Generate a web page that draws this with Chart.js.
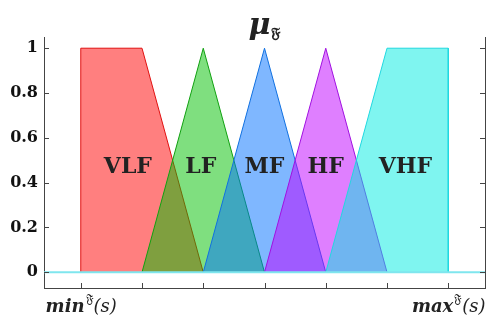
<!DOCTYPE html>
<html>
<head>
<meta charset="utf-8">
<script src="https://cdn.jsdelivr.net/npm/chart.js@4.4.0/dist/chart.umd.min.js"></script>
<style>
  html, body { margin: 0; padding: 0; background: #fff; }
  #wrap { width: 504px; height: 325px; }
</style>
</head>
<body>
<div id="wrap"><canvas id="c"></canvas></div>
<script>
// membership functions, x in units between min and max
const setNames = ['VLF', 'LF', 'MF', 'HF', 'VHF'];
const vlfX = [0, 0, 1, 2];
const vlfY = [0, 1, 1, 0];
const lfX = [1, 2, 3];
const lfY = [0, 1, 0];
const mfX = [2, 3, 4];
const mfY = [0, 1, 0];
const hfX = [3, 4, 5];
const hfY = [0, 1, 0];
const vhfX = [4, 5, 6, 6];
const vhfY = [0, 1, 1, 0];
const labelX = [0.77, 1.96, 3.0, 4.0, 5.3];
const labelY = [0.47, 0.47, 0.47, 0.47, 0.47];
const yTicks = [0, 0.2, 0.4, 0.6, 0.8, 1];
const xTicks = [0, 1, 2, 3, 4, 5, 6];
const xEndLabels = { 0: 'min', 6: 'max' };

const fills = ['rgba(255,0,0,0.5)', 'rgba(0,192,0,0.5)', 'rgba(0,112,255,0.5)', 'rgba(192,0,255,0.5)', 'rgba(0,235,225,0.5)'];
const lines = ['#e01010', '#10a010', '#1070e0', '#a010e0', '#20d8e0'];

const pts = (xs, ys) => xs.map((x, i) => ({ x: x, y: ys[i] }));
const shapes = [[vlfX, vlfY], [lfX, lfY], [mfX, mfY], [hfX, hfY], [vhfX, vhfY]];

// later sets are painted over earlier ones
const datasets = shapes.map((s, i) => ({
  label: setNames[i],
  data: pts(s[0], s[1]),
  order: 10 - i,
  showLine: true,
  fill: 'origin',
  backgroundColor: fills[i],
  borderColor: lines[i],
  borderWidth: 1,
  pointRadius: 0,
  tension: 0
}));
datasets.push({
  label: 'zero',
  data: [{ x: -0.6, y: 0 }, { x: 6.6, y: 0 }],
  order: 0,
  showLine: true,
  fill: false,
  borderColor: '#7fe6ee',
  borderWidth: 2,
  pointRadius: 0
});

const serif = '"DejaVu Serif", "Liberation Serif", serif';

const decor = {
  id: 'decor',
  afterDraw(chart) {
    const ctx = chart.ctx;
    const xs = chart.scales.x, ys = chart.scales.y;
    const a = chart.chartArea;
    ctx.save();
    // inward ticks
    ctx.strokeStyle = '#444';
    ctx.lineWidth = 1;
    ctx.beginPath();
    yTicks.forEach(v => {
      const py = Math.round(ys.getPixelForValue(v)) + 0.5;
      ctx.moveTo(a.left, py); ctx.lineTo(a.left + 5, py);
      ctx.moveTo(a.right, py); ctx.lineTo(a.right - 5, py);
    });
    xTicks.forEach(v => {
      const px = Math.round(xs.getPixelForValue(v)) + 0.5;
      ctx.moveTo(px, a.bottom); ctx.lineTo(px, a.bottom - 5);
    });
    ctx.stroke();

    // set labels
    ctx.fillStyle = '#222';
    ctx.font = 'bold 22px ' + serif;
    ctx.textAlign = 'center';
    ctx.textBaseline = 'middle';
    setNames.forEach((n, i) => {
      ctx.fillText(n, xs.getPixelForValue(labelX[i]), ys.getPixelForValue(labelY[i]));
    });

    // x end labels with superscript
    ctx.textBaseline = 'alphabetic';
    Object.keys(xEndLabels).forEach(k => {
      const base = xEndLabels[k];
      const cx = xs.getPixelForValue(Number(k));
      const by = 312;
      ctx.font = 'italic bold 18px ' + serif;
      const w1 = ctx.measureText(base).width;
      ctx.font = '12px ' + serif;
      const w2 = ctx.measureText('\u{1D509}').width;
      ctx.font = 'italic 18px ' + serif;
      const w3 = ctx.measureText('(s)').width;
      let x0 = cx - (w1 + w2 + w3) / 2;
      ctx.textAlign = 'left';
      ctx.font = 'italic bold 18px ' + serif;
      ctx.fillText(base, x0, by);
      ctx.font = '12px ' + serif;
      ctx.fillText('\u{1D509}', x0 + w1 + 1, by - 9);
      ctx.font = 'italic 18px ' + serif;
      ctx.fillText('(s)', x0 + w1 + w2 + 1, by);
    });

    // title
    ctx.textAlign = 'left';
    ctx.font = 'italic bold 30px ' + serif;
    const tw = ctx.measureText('\u03BC').width;
    const tx = (a.left + a.right) / 2 - 16;
    ctx.fillText('\u03BC', tx, 34);
    ctx.font = 'bold 15px ' + serif;
    ctx.fillText('\u{1D509}', tx + tw + 1, 38);
    ctx.restore();
  }
};

new Chart(document.getElementById('c'), {
  type: 'scatter',
  data: { datasets: datasets },
  plugins: [decor],
  options: {
    responsive: true,
    maintainAspectRatio: false,
    animation: false,
    layout: { padding: { top: 37, left: 0, right: 0, bottom: 0 } },
    plugins: { legend: { display: false }, tooltip: { enabled: false }, title: { display: false } },
    scales: {
      x: {
        type: 'linear', min: -0.6, max: 6.6,
        grid: { display: false, drawTicks: false },
        border: { display: true, color: '#444', width: 1 },
        ticks: { display: false },
        afterFit: s => { s.height = 37; }
      },
      y: {
        type: 'linear', min: -0.07, max: 1.05,
        grid: { display: false, drawTicks: false },
        border: { display: true, color: '#444', width: 1 },
        afterBuildTicks: s => { s.ticks = yTicks.map(v => ({ value: v })); },
        ticks: {
          padding: 6,
          color: '#111',
          font: { family: serif, weight: 'bold', size: 16 },
          callback: v => String(Math.round(v * 10) / 10)
        },
        afterFit: s => { s.width = 44; }
      },
      y2: {
        type: 'linear', position: 'right', min: -0.07, max: 1.05,
        grid: { display: false, drawTicks: false },
        border: { display: true, color: '#444', width: 1 },
        ticks: { display: false },
        afterFit: s => { s.width = 19; }
      }
    }
  }
});
</script>
</body>
</html>
